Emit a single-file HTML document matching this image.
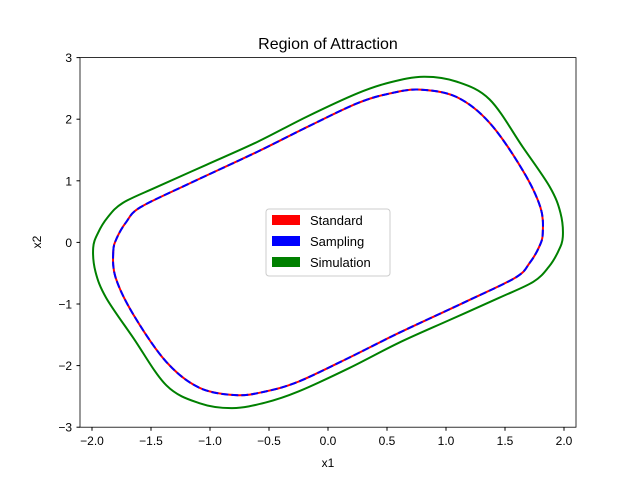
<!DOCTYPE html>
<html><head><meta charset="utf-8"><style>
body{margin:0;background:#fff;}
text{font-family:"Liberation Sans","DejaVu Sans",sans-serif;fill:#000;}
</style></head><body>
<svg id="chart" width="640" height="480">
<rect width="640" height="480" fill="#fff"/>
<text x="328" y="49" font-size="16" text-anchor="middle">Region of Attraction</text>
<g id="curves"></g>
<rect x="80" y="57.6" width="496" height="369.6" fill="none" stroke="#000" stroke-width="0.8"/>
<g id="ticks"></g>
<text x="328" y="467" font-size="12" text-anchor="middle">x1</text>
<text x="0" y="0" font-size="12" text-anchor="middle" transform="translate(41,242) rotate(-90)">x2</text>
<g>
<rect x="266" y="209" width="124" height="67" rx="3" fill="#fff" fill-opacity="0.8" stroke="#ccc" stroke-width="1"/>
<g><rect x="272" y="215" width="28" height="10" fill="#ff0000"/><text x="310" y="225" font-size="13">Standard</text></g>
<g><rect x="272" y="236" width="28" height="10" fill="#0000ff"/><text x="310" y="246" font-size="13">Sampling</text></g>
<g><rect x="272" y="257" width="28" height="10" fill="#008000"/><text x="310" y="267" font-size="13">Simulation</text></g>
</g>
</svg>
<script>
const xTicks=[-2.0,-1.5,-1.0,-0.5,0.0,0.5,1.0,1.5,2.0];
const yTicks=[-3,-2,-1,0,1,2,3];
const estX=[-1.82,-1.79,-1.71,-1.59,-1.17,-0.60,-0.18,0.25,0.53,0.78,1.09,1.37,1.65,1.80,1.82,1.79,1.71,1.59,1.17,0.60,0.18,-0.25,-0.53,-0.78,-1.09,-1.37,-1.65,-1.80];
const estY=[-0.15,0.07,0.33,0.57,0.96,1.47,1.87,2.26,2.42,2.48,2.36,1.94,1.17,0.57,0.15,-0.07,-0.33,-0.57,-0.96,-1.47,-1.87,-2.26,-2.42,-2.48,-2.36,-1.94,-1.17,-0.57];
const simX=[-1.99,-1.95,-1.87,-1.74,-1.45,-1.03,-0.60,-0.18,0.25,0.53,0.81,1.09,1.37,1.65,1.88,1.97,1.99,1.95,1.87,1.74,1.45,1.03,0.60,0.18,-0.25,-0.53,-0.81,-1.09,-1.37,-1.65,-1.88,-1.97];
const simY=[-0.09,0.15,0.40,0.64,0.90,1.26,1.63,2.04,2.42,2.60,2.69,2.61,2.32,1.55,0.90,0.48,0.09,-0.15,-0.40,-0.64,-0.90,-1.26,-1.63,-2.04,-2.42,-2.60,-2.69,-2.61,-2.32,-1.55,-0.90,-0.48];
const X=v=>328+v*118, Y=v=>242.4-v*61.6;
const NS='http://www.w3.org/2000/svg';
function path(xs,ys){
  const p=xs.map((x,i)=>[X(x),Y(ys[i])]);const n=p.length;
  let d='M'+p[0][0]+','+p[0][1];
  for(let i=0;i<n;i++){
    const p0=p[(i-1+n)%n],p1=p[i],p2=p[(i+1)%n],p3=p[(i+2)%n];
    d+=' C'+(p1[0]+(p2[0]-p0[0])/6)+','+(p1[1]+(p2[1]-p0[1])/6)+' '+(p2[0]-(p3[0]-p1[0])/6)+','+(p2[1]-(p3[1]-p1[1])/6)+' '+p2[0]+','+p2[1];
  }
  return d+'Z';
}
const g=document.getElementById('curves');
function add(d,color,dash,name){
  const e=document.createElementNS(NS,'path');
  e.setAttribute('d',d);e.setAttribute('fill','none');e.setAttribute('stroke',color);e.setAttribute('stroke-width','2');
  if(dash)e.setAttribute('stroke-dasharray',dash);
  
  
  g.appendChild(e);
}
add(path(simX,simY),'#008000',null,'simulation-curve');
add(path(estX,estY),'#ff0000',null,'standard-curve');
add(path(estX,estY),'#0000ff','7,3','sampling-curve');
const t=document.getElementById('ticks');
xTicks.forEach(v=>{
  const l=document.createElementNS(NS,'line');
  l.setAttribute('x1',X(v));l.setAttribute('x2',X(v));l.setAttribute('y1',427.2);l.setAttribute('y2',430.7);l.setAttribute('stroke','#000');
  
  
  t.appendChild(l);
  const s=document.createElementNS(NS,'text');
  s.setAttribute('x',X(v));s.setAttribute('y',445);s.setAttribute('font-size','12');s.setAttribute('text-anchor','middle');
  s.textContent=v.toFixed(1).replace('-','\u2212');
  
  
  t.appendChild(s);
});
yTicks.forEach(v=>{
  const l=document.createElementNS(NS,'line');
  l.setAttribute('x1',76.5);l.setAttribute('x2',80);l.setAttribute('y1',Y(v));l.setAttribute('y2',Y(v));l.setAttribute('stroke','#000');
  
  
  t.appendChild(l);
  const s=document.createElementNS(NS,'text');
  s.setAttribute('x',72);s.setAttribute('y',Y(v)+4.5);s.setAttribute('font-size','12');s.setAttribute('text-anchor','end');
  s.textContent=String(v).replace('-','\u2212');
  
  
  t.appendChild(s);
});
</script>
</body></html>
